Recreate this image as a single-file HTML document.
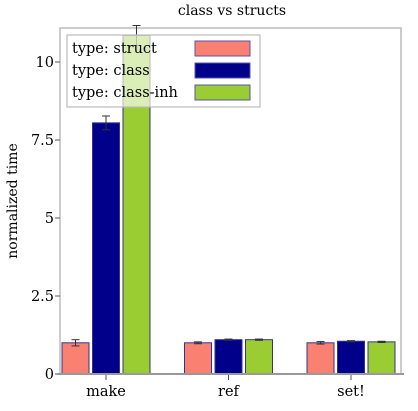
<!DOCTYPE html>
<html><head><meta charset="utf-8"><style>
body{margin:0;background:#fff}
svg{display:block;font-family:"DejaVu Serif","Liberation Serif",serif}
</style></head><body>
<svg id="c" width="418" height="411" viewBox="0 0 418 411" xmlns="http://www.w3.org/2000/svg">
<text x="232" y="15" font-size="14" text-anchor="middle">class vs structs</text>
<rect x="60" y="28" width="341" height="346" fill="none" stroke="#bbb" stroke-width="1.5"/>
<text transform="translate(17,201) rotate(-90)" font-size="14" text-anchor="middle">normalized time</text>
<g id="axes"></g><g id="bars"></g>
<line x1="57" y1="374" x2="404" y2="374" stroke="#999" stroke-width="2"/>
<g>
<rect x="67" y="35" width="193" height="72" fill="#fff" fill-opacity="0.65" stroke="#bbb" stroke-width="1.2"/>
<text x="72" y="53" font-size="14.5">type: struct</text>
<rect x="195" y="41" width="55" height="15" fill="#fa8072" stroke="#55a" stroke-width="1"/>
<text x="72" y="75" font-size="14.5">type: class</text>
<rect x="195" y="63" width="55" height="15" fill="#00008b" stroke="#55a" stroke-width="1"/>
<text x="72" y="97" font-size="14.5">type: class-inh</text>
<rect x="195" y="85" width="55" height="15" fill="#9acd32" stroke="#55a" stroke-width="1"/>
</g>
</svg>
<script>
const categories=["make","ref","set!"];
const series=["struct","class","class-inh"];
const structVals=[1.0,1.0,1.0];
const classVals=[8.05,1.1,1.05];
const inhVals=[10.85,1.1,1.03];
const structErr=[0.1,0.03,0.04];
const classErr=[0.22,0.02,0.02];
const inhErr=[0.32,0.02,0.02];
const yTicks=[0,2.5,5,7.5,10];
const yTickLabels=["0","2.5","5","7.5","10"];
const colors=["#fa8072","#00008b","#9acd32"];
const NS="http://www.w3.org/2000/svg";
const y=v=>374-v*31.2;
const x=i=>106+i*122.5;
const ax=document.getElementById('axes'),bg=document.getElementById('bars');
function mk(t,a,p){const e=document.createElementNS(NS,t);for(const k in a)e.setAttribute(k,a[k]);p.appendChild(e);return e;}
yTicks.forEach((v,i)=>{
 const l=mk('line',{x1:55,x2:60,y1:y(v),y2:y(v),stroke:'#555'},ax);
 
 
 const t=mk('text',{x:54,y:y(v)+5,'font-size':14.5,'text-anchor':'end'},ax);t.textContent=yTickLabels[i];
 
 
});
categories.forEach((c,i)=>{
 const l=mk('line',{x1:x(i),x2:x(i),y1:374,y2:380,stroke:'#555'},ax);
 
 
 const t=mk('text',{x:x(i),y:396,'font-size':14.5,'text-anchor':'middle'},ax);t.textContent=c;
 
 
});
const vals=[structVals,classVals,inhVals],errs=[structErr,classErr,inhErr];
categories.forEach((c,i)=>{
 series.forEach((s,j)=>{
  const v=vals[j][i],e=errs[j][i];
  const bx=x(i)-44+j*30.5;
  const r=mk('rect',{x:bx,y:y(v),width:27,height:374-y(v),fill:colors[j],stroke:'#33338a','stroke-width':1},bg);
  
  
  const cx=bx+13.5;
  const g=mk('g',{stroke:'#333','stroke-width':1},bg);
  
  
  mk('line',{x1:cx,x2:cx,y1:y(v+e),y2:y(v-e)},g);
  mk('line',{x1:cx-4,x2:cx+4,y1:y(v+e),y2:y(v+e)},g);
  mk('line',{x1:cx-4,x2:cx+4,y1:y(v-e),y2:y(v-e)},g);
 });
});
</script>
</body></html>
